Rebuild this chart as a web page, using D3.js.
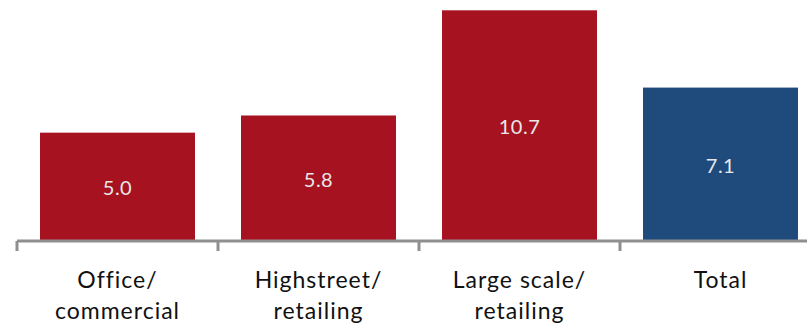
<!DOCTYPE html>
<html><head><meta charset="utf-8">
<script src="https://cdn.jsdelivr.net/npm/d3@7"></script>
<style>html,body{margin:0;padding:0;background:#fff;}svg{display:block;}</style>
</head><body>
<svg id="c" width="807" height="326"></svg>
<script>
const categories = [["Office/","commercial"],["Highstreet/","retailing"],["Large scale/","retailing"],["Total"]];
const values = [5.0, 5.8, 10.7, 7.1];
const colors = ["#A6121F","#A6121F","#A6121F","#1F4A7C"];

const svg = d3.select("#c");
const idx = values.map((d,i)=>i);
const x = d3.scaleBand().domain(idx).range([17, 821]).paddingInner(0.229).paddingOuter(0.1145);
const y = d3.scaleLinear().domain([0, 11.18]).range([240, 0]);

svg.selectAll("rect.bar").data(idx).enter().append("rect")
  .attr("x", i=>x(i)).attr("width", x.bandwidth())
  .attr("y", i=>y(values[i])).attr("height", i=>y(0)-y(values[i]))
  .attr("fill", i=>colors[i]);

svg.selectAll("text.val").data(idx).enter().append("text")
  .attr("x", i=>x(i)+x.bandwidth()/2)
  .attr("y", i=>(y(values[i])+y(0))/2 + 2)
  .attr("dy","0.35em")
  .attr("text-anchor","middle")
  .attr("font-family","Lato, 'Open Sans', sans-serif")
  .attr("font-size", 20)
  .attr("letter-spacing", 0.5)
  .attr("fill","#e8e8e8")
  .text(i=>values[i].toFixed(1));

// axis
const axisY = 241;
const step = x.step();
const edges = d3.range(values.length+1).map(k=>17 + k*step);
svg.append("line").attr("x1",17).attr("x2",821).attr("y1",axisY).attr("y2",axisY)
  .attr("stroke","#8f8f8f").attr("stroke-width",3);
svg.selectAll("line.tk").data(edges).enter().append("line")
  .attr("x1",d=>d).attr("x2",d=>d).attr("y1",axisY).attr("y2",axisY+10)
  .attr("stroke","#8f8f8f").attr("stroke-width",3);

const lab = svg.selectAll("text.cat").data(idx).enter().append("text")
  .attr("text-anchor","middle")
  .attr("font-family","Lato, 'Open Sans', sans-serif")
  .attr("font-size", 23)
  .attr("letter-spacing", 1)
  .attr("fill","#111");
lab.each(function(i){
  const t = d3.select(this);
  categories[i].forEach((s,k)=>{
    t.append("tspan").attr("x", x(i)+x.bandwidth()/2).attr("y", 288 + k*31).text(s);
  });
});
</script>
</body></html>
